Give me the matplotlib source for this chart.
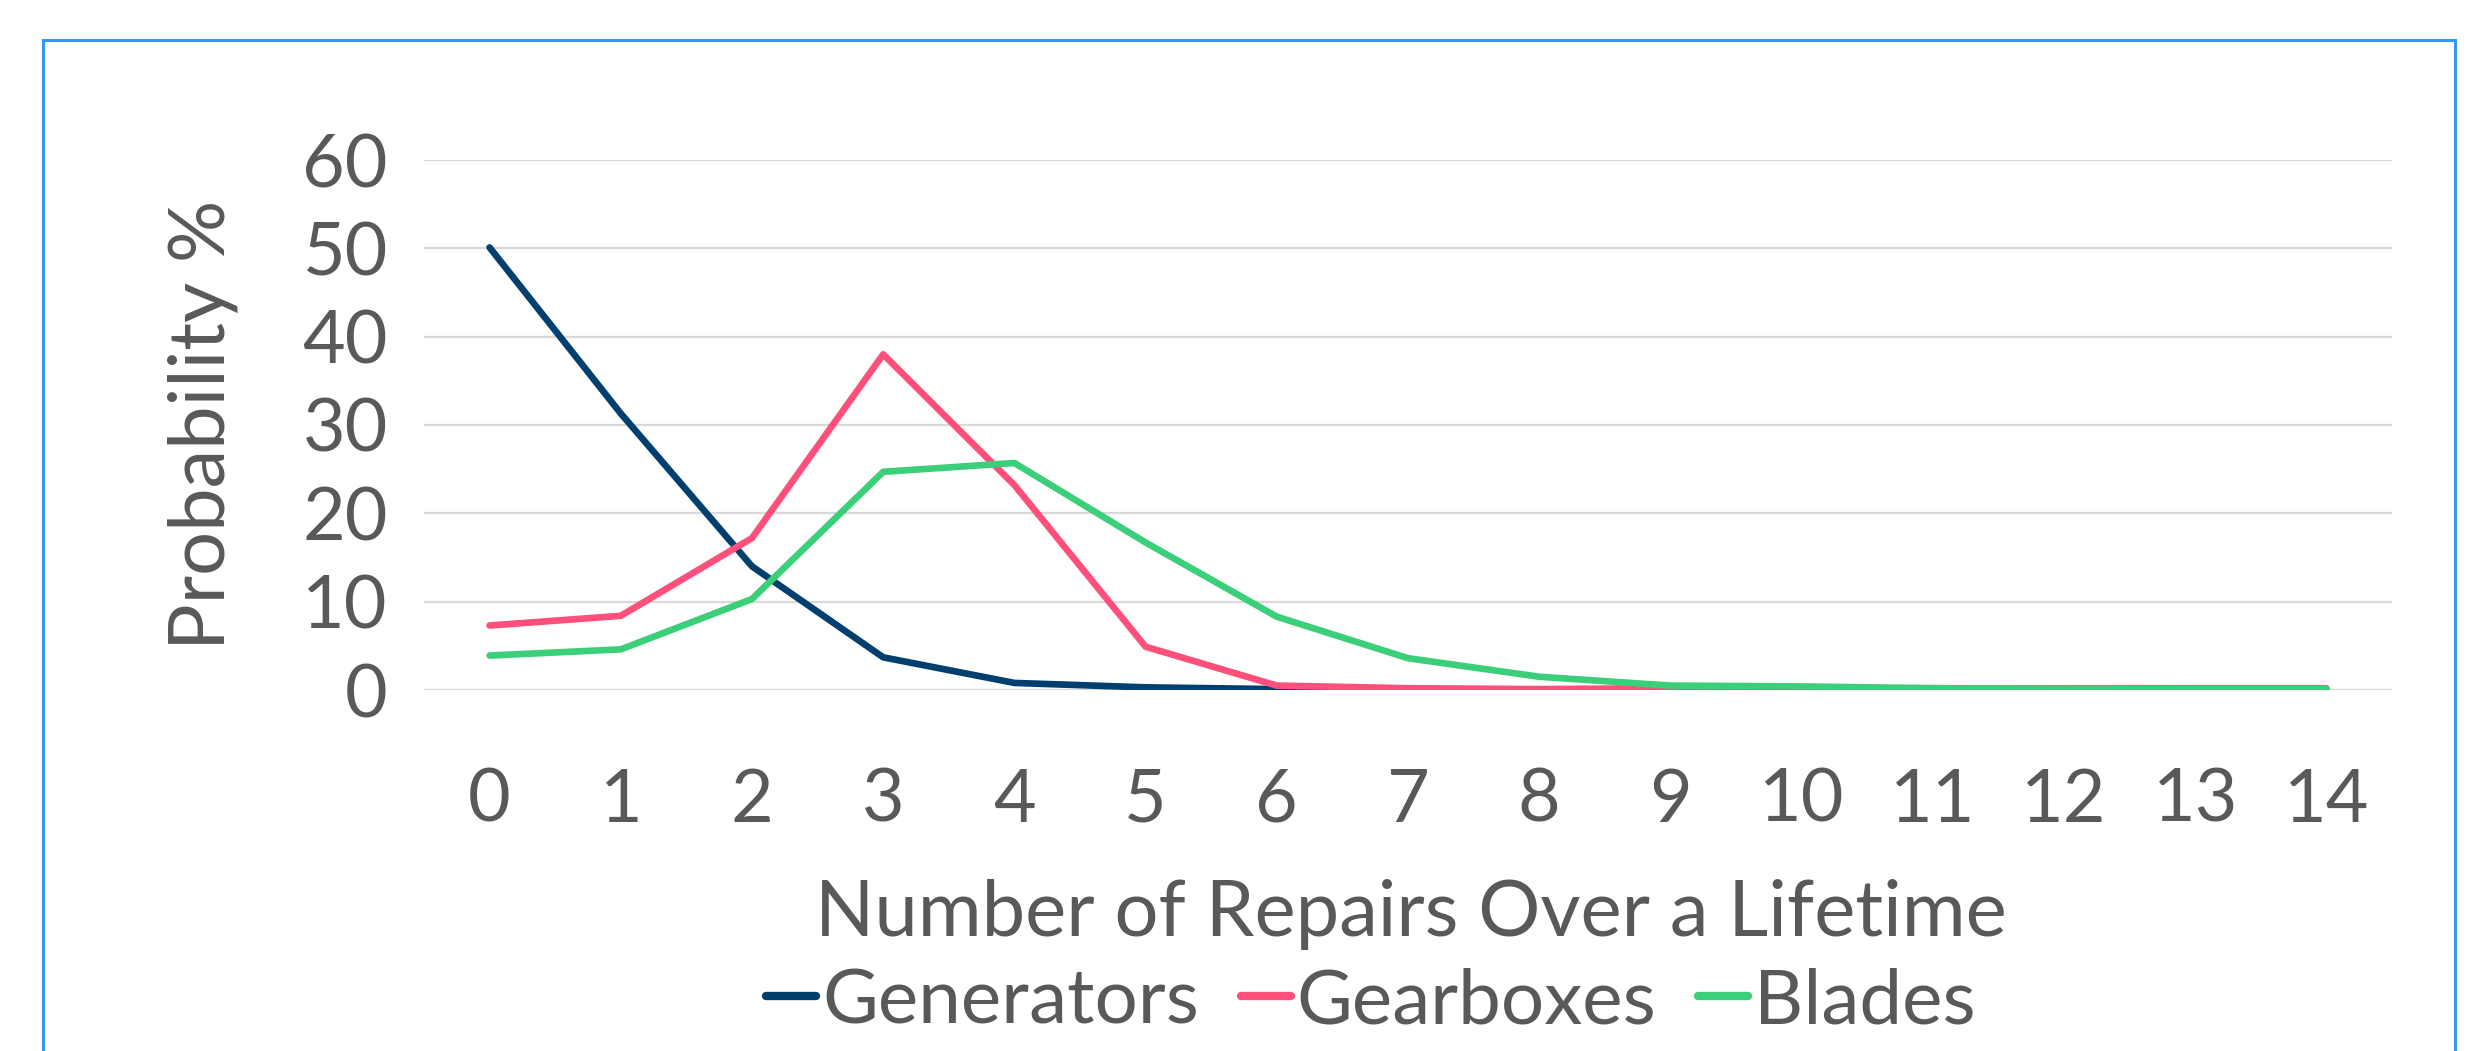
from matplotlib import pyplot as plt
from matplotlib.patches import Rectangle

# data
repairs = list(range(15))
generators = [50.1, 31.3, 14.0, 3.7, 0.8, 0.3, 0.1, 0, 0, 0, 0, 0, 0, 0, 0]
gearboxes = [7.3, 8.4, 17.2, 38.0, 23.2, 4.9, 0.5, 0.2, 0.1, 0.2, 0.2, 0.2, 0.2, 0.2, 0.2]
blades = [3.9, 4.6, 10.3, 24.7, 25.7, 16.7, 8.3, 3.6, 1.5, 0.5, 0.4, 0.2, 0.15, 0.1, 0.1]
y_ticks = [0, 10, 20, 30, 40, 50, 60]

text_grey = '#595959'
plt.rcParams['font.family'] = ['Lato', 'DejaVu Sans']

fig = plt.figure(figsize=(24.81, 10.51), dpi=100)
ax = fig.add_axes([424 / 2481, 361 / 1051, 1968 / 2481, 530 / 1051])

ax.plot(repairs, generators, color='#003F6E', lw=4.8, label='Generators', solid_capstyle='round')
ax.plot(repairs, gearboxes, color='#FF4F7B', lw=4.8, label='Gearboxes', solid_capstyle='round')
ax.plot(repairs, blades, color='#3BCF7A', lw=4.8, label='Blades', solid_capstyle='round')

ax.set_xlim(-0.5, 14.5)
ax.set_ylim(0, 60)
ax.set_xticks(repairs)
ax.set_yticks(y_ticks)
ax.tick_params(length=0, labelsize=53, colors=text_grey)
ax.tick_params(axis='x', pad=56)
ax.tick_params(axis='y', pad=26)
ax.grid(axis='y', color='#D9D9D9', lw=1.6)
ax.set_axisbelow(True)
for s in ax.spines.values():
    s.set_visible(False)

fig.text(203 / 2481, 0.596, 'Probability %', rotation=90, ha='center', va='center',
         fontsize=56, color=text_grey)
fig.text(1411 / 2481, 0.130, 'Number of Repairs Over a Lifetime', ha='center', va='center',
         fontsize=56, color=text_grey)

leg = fig.legend(loc='center', bbox_to_anchor=(1371 / 2481, 0.047), ncol=3, frameon=False,
                 fontsize=55, handlelength=0.65, handletextpad=0.08, columnspacing=0.55,
                 borderpad=0, borderaxespad=0)
for t in leg.get_texts():
    t.set_color(text_grey)
for h in leg.legend_handles:
    h.set_linewidth(6)
    h.set_solid_capstyle('round')

# blue chart border, runs off the bottom of the image
fig.add_artist(Rectangle((43 / 2481, -0.1), (2455 - 43) / 2481, 1.1 - 40 / 1051,
                         transform=fig.transFigure, fill=False, ec='#3399F3', lw=2.2))

fig.savefig('out.png', dpi=100)
